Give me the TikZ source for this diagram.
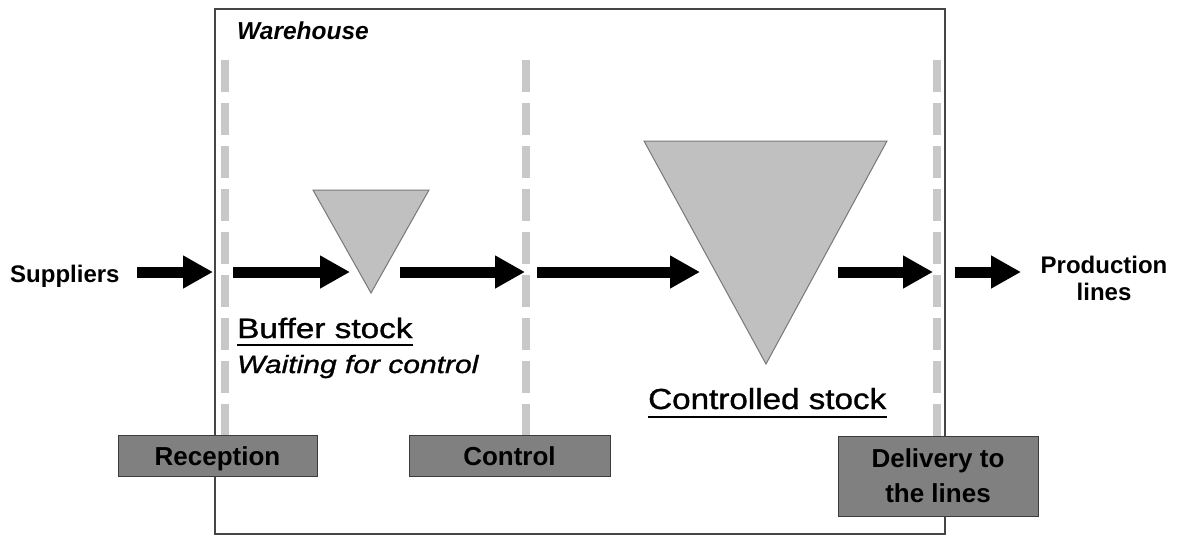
\documentclass[tikz,border=0pt]{standalone}
\usepackage{fontspec}
\setmainfont{Liberation Sans}
\newfontfamily\medfont[FakeBold=1]{Liberation Sans}
\usetikzlibrary{arrows.meta}

\definecolor{stockfill}{RGB}{192,192,192}
\definecolor{stockedge}{RGB}{120,120,120}
\definecolor{stagefill}{RGB}{128,128,128}
\definecolor{stageedge}{RGB}{60,60,60}
\definecolor{fence}{RGB}{200,200,200}
\definecolor{wall}{RGB}{70,70,70}

\tikzset{
  flow/.style={line width=11pt, -{Triangle[length=30pt,width=31pt]}},
  stock/.style={fill=stockfill, draw=stockedge, line width=1pt, line join=miter},
  stage/.style={rectangle, fill=stagefill, draw=stageedge, line width=1pt,
    inner sep=0pt, font=\fontsize{26}{35}\selectfont\bfseries, align=center},
  border/.style={draw=fence, line width=8pt, dash pattern=on 32pt off 11pt},
  plain/.style={inner sep=0pt, anchor=base west},
  uline/.style={line width=2.8pt},
}

\begin{document}
\begin{tikzpicture}[x=1pt, y=-1pt]
\useasboundingbox (0,0) rectangle (1178,536);

% dashed borders between the warehouse zones
\draw[border] (225,60) -- (225,436);
\draw[border] (526,60) -- (526,436);
\draw[border] (937,60) -- (937,436);

% warehouse outline
\draw[wall, line width=1.3pt] (215,9) rectangle (945,534);
\node[plain, font=\fontsize{24.5}{28}\selectfont\bfseries\itshape] (wh) at (237,39) {Warehouse};

% stock triangles
\draw[stock] (313,190) -- (429,190) -- (371,293) -- cycle;
\draw[stock] (644,141) -- (887,141) -- (766,364) -- cycle;

% labels
\node[plain, font=\fontsize{24}{28}\selectfont\bfseries] (sup) at (10,282) {Suppliers};
\node[inner sep=0pt, anchor=base, align=center, font=\fontsize{24}{27}\selectfont\bfseries]
  (prod) at (1104,300) {Production\\lines};

\node[plain, font=\fontsize{28}{32}\medfont] (buf) at (237,338) {\scalebox{1.19}[1]{Buffer stock}};
\draw[uline] (buf.base west) ++(0,7) -- ++(176,0);
\node[plain, font=\fontsize{25}{30}\medfont\itshape] (wait) at (237,373) {\scalebox{1.2}[1]{Waiting for control}};

\node[plain, font=\fontsize{29}{33}\medfont] (ctl) at (648,409) {\scalebox{1.145}[1]{Controlled stock}};
\draw[uline] (ctl.base west) ++(0,8) -- ++(239,0);

% process stages
\node[stage, minimum width=199pt, minimum height=41pt, text height=19pt, text depth=0pt] (rec) at (217.5,455.5) {Reception};
\node[stage, minimum width=201pt, minimum height=41pt, text height=19pt, text depth=0pt] (con) at (509.5,455.5) {Control};
\node[stage, minimum width=200pt, minimum height=80pt] (del) at (938,476) {Delivery to\\the lines};

% flow arrows
\coordinate (a1) at (137,272); \coordinate (b1) at (213,272);
\coordinate (a2) at (233,272); \coordinate (b2) at (350,272);
\coordinate (a3) at (400,272); \coordinate (b3) at (525,272);
\coordinate (a4) at (537,272); \coordinate (b4) at (700,272);
\coordinate (a5) at (838,272); \coordinate (b5) at (933,272);
\coordinate (a6) at (955,272); \coordinate (b6) at (1021,272);
\foreach \i in {1,...,6} \draw[flow] (a\i) -- (b\i);
\end{tikzpicture}
\end{document}
